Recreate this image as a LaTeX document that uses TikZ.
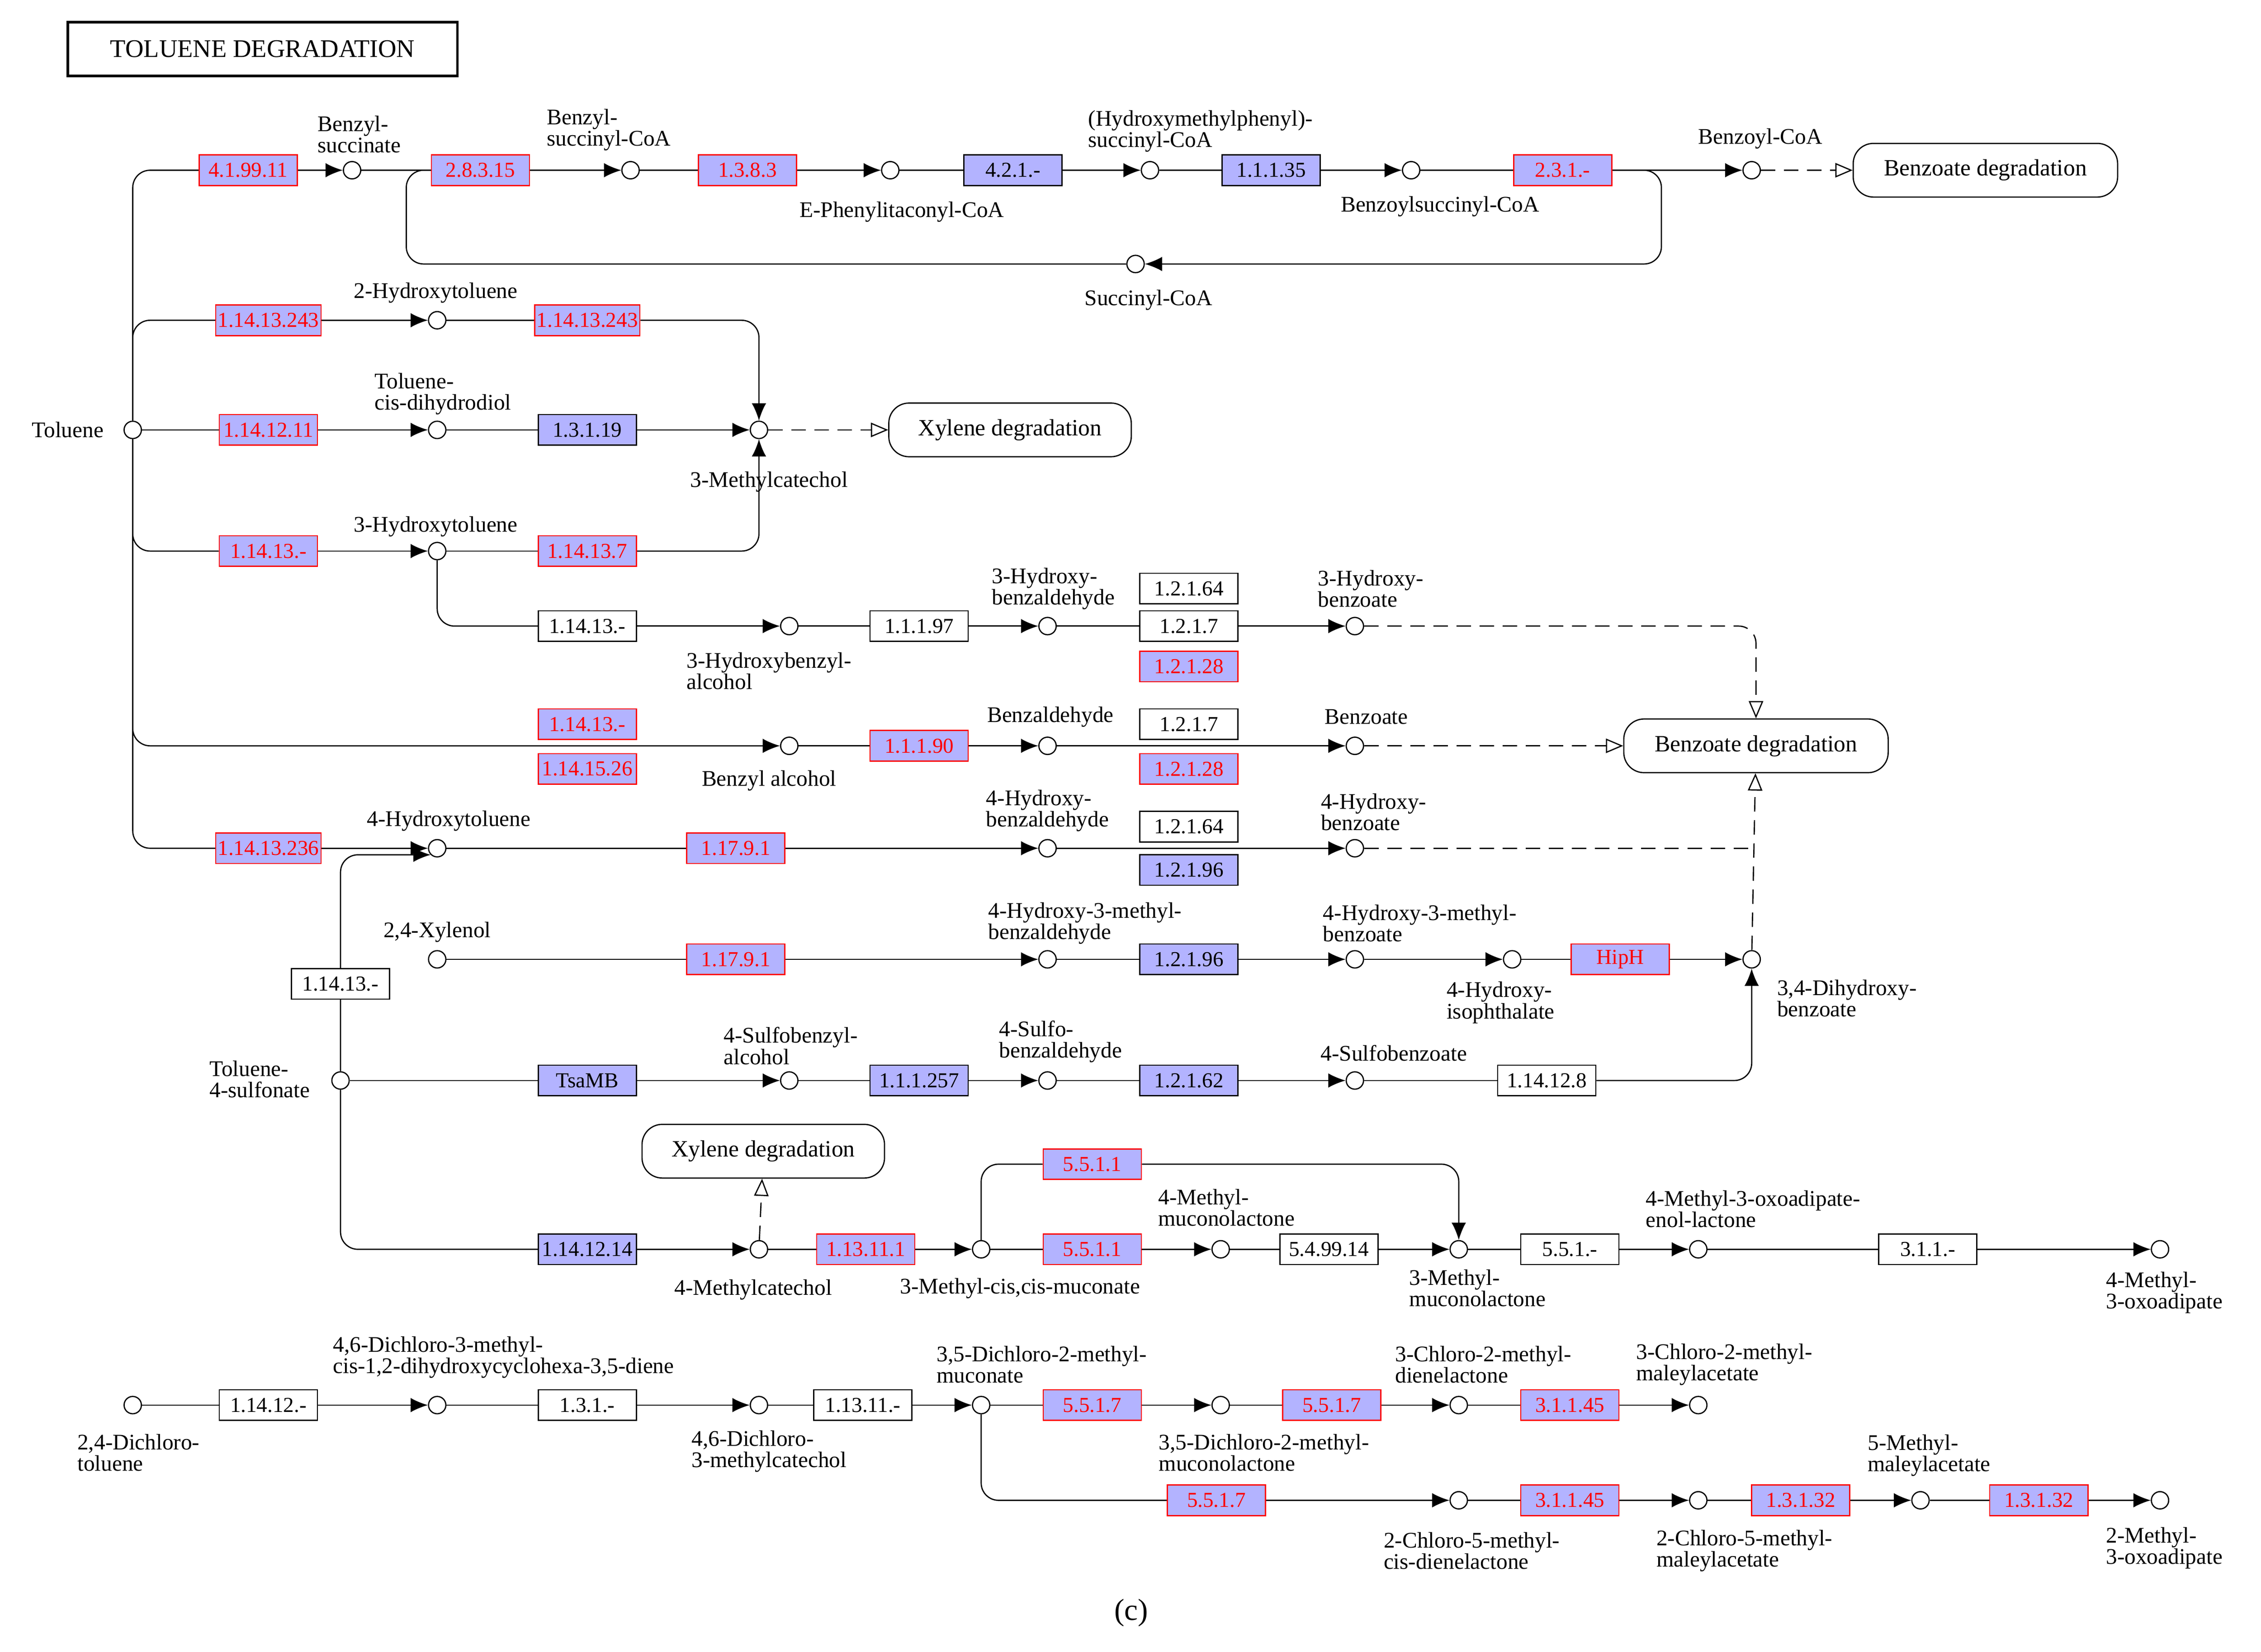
\documentclass[tikz,border=0pt]{standalone}
\usepackage{fontspec}
\setmainfont{Liberation Serif}
\usetikzlibrary{arrows.meta,backgrounds,positioning}
\definecolor{kb}{HTML}{B3B3FF}
\tikzset{
 x=0.025cm,y=-0.025cm,
 bx/.style={rectangle,draw,minimum width=1.7cm,minimum height=0.53cm,inner sep=1pt,font=\fontsize{10.5}{11}\selectfont,line width=0.6pt},
 rb/.style={bx,draw=red,fill=kb,text=red},
 bb/.style={bx,fill=kb},
 wb/.style={bx,fill=white},
 cp/.style={circle,draw,fill=white,minimum size=0.3cm,inner sep=0,line width=0.6pt},
 lb/.style={align=left,inner sep=0,font=\fontsize{11}{10.5}\selectfont},
 mp/.style={rounded corners=0.35cm,draw,fill=white,minimum height=0.93cm,font=\fontsize{11.5}{12}\selectfont,line width=0.6pt},
 ln/.style={line width=0.6pt,rounded corners=0.3cm},
 ar/.style={ln,-{Latex[length=0.3cm,width=0.25cm]}},
 da/.style={ln,dashed,dash pattern=on 0.25cm off 0.15cm,-{Triangle[open,length=0.3cm,width=0.25cm]}},
}
\begin{document}
\begin{tikzpicture}
\useasboundingbox (0,0) rectangle (1567,1145);
\node[draw,line width=1.2pt,minimum width=6.75cm,minimum height=0.93cm,font=\fontsize{12.5}{13}\selectfont] (title) at (182,34) {TOLUENE DEGRADATION};
% row 118
\node[cp] (T) at (92,298) {}; \node[lb] at (47,298) {Toluene};
\node[rb] (e1) at (172,118) {4.1.99.11};
\node[cp] (bs) at (244,118) {}; \node[lb] at (249,93) {Benzyl-\\succinate};
\node[rb] (e2) at (333,118) {2.8.3.15};
\node[cp] (bsc) at (437,118) {}; \node[lb] at (422,90) {Benzyl-\\succinyl-CoA};
\node[rb] (e3) at (518,118) {1.3.8.3};
\node[cp] (epc) at (617,118) {}; \node[lb] at (625,147) {E-Phenylitaconyl-CoA};
\node[bb] (e4) at (702,118) {4.2.1.-};
\node[cp] (hmp) at (797,118) {}; \node[lb] at (832,91) {(Hydroxymethylphenyl)-\\succinyl-CoA};
\node[bb] (e5) at (881,118) {1.1.1.35};
\node[cp] (bzs) at (978,118) {}; \node[lb] at (998,143) {Benzoylsuccinyl-CoA};
\node[rb] (e6) at (1083,118) {2.3.1.-};
\node[cp] (bzc) at (1214,118) {}; \node[lb] at (1220,96) {Benzoyl-CoA};
\node[mp,minimum width=4.58cm] (bd1) at (1376,118) {Benzoate degradation};
\node[cp] (suc) at (787,183) {}; \node[lb] at (796,208) {Succinyl-CoA};
% rows 222-382
\node[rb] (e7) at (186,222) {1.14.13.243};
\node[cp] (h2) at (303,222) {}; \node[lb] at (302,203) {2-Hydroxytoluene};
\node[rb] (e8) at (407,222) {1.14.13.243};
\node[rb] (e9) at (186,298) {1.14.12.11};
\node[cp] (tcd) at (303,298) {}; \node[lb] at (307,273) {Toluene-\\cis-dihydrodiol};
\node[bb] (e10) at (407,298) {1.3.1.19};
\node[cp] (mc) at (526,298) {}; \node[lb] at (533,334) {3-Methylcatechol};
\node[mp,minimum width=4.2cm] (xd1) at (700,298) {Xylene degradation};
\node[rb] (e11) at (186,382) {1.14.13.-};
\node[cp] (h3) at (303,382) {}; \node[lb] at (302,365) {3-Hydroxytoluene};
\node[rb] (e12) at (407,382) {1.14.13.7};
% row 434
\node[wb] (e13) at (407,434) {1.14.13.-};
\node[cp] (hba) at (547,434) {}; \node[lb] at (533,465) {3-Hydroxybenzyl-\\alcohol};
\node[wb] (e14) at (637,434) {1.1.1.97};
\node[cp] (hbd) at (726,434) {}; \node[lb] at (730,408) {3-Hydroxy-\\benzaldehyde};
\node[wb] (e15) at (824,408) {1.2.1.64};
\node[wb] (e16) at (824,434) {1.2.1.7};
\node[rb] (e17) at (824,462) {1.2.1.28};
\node[cp] (hb3) at (939,434) {}; \node[lb] at (950,408) {3-Hydroxy-\\benzoate};
% row 517
\node[rb] (e18) at (407,502) {1.14.13.-};
\node[rb] (e19) at (407,533) {1.14.15.26};
\node[cp] (bal) at (547,517) {}; \node[lb] at (533,541) {Benzyl alcohol};
\node[rb] (e20) at (637,517) {1.1.1.90};
\node[cp] (bad) at (726,517) {}; \node[lb] at (728,497) {Benzaldehyde};
\node[wb] (e21) at (824,502) {1.2.1.7};
\node[rb] (e22) at (824,533) {1.2.1.28};
\node[cp] (bz) at (939,517) {}; \node[lb] at (947,497) {Benzoate};
\node[mp,minimum width=4.58cm] (bd2) at (1217,517) {Benzoate degradation};
% row 588
\node[rb] (e23) at (186,588) {1.14.13.236};
\node[cp] (h4) at (303,588) {}; \node[lb] at (311,569) {4-Hydroxytoluene};
\node[rb] (e24) at (510,588) {1.17.9.1};
\node[cp] (h4d) at (726,588) {}; \node[lb] at (726,562) {4-Hydroxy-\\benzaldehyde};
\node[wb] (e25) at (824,573) {1.2.1.64};
\node[bb] (e26) at (824,603) {1.2.1.96};
\node[cp] (hb4) at (939,588) {}; \node[lb] at (952,563) {4-Hydroxy-\\benzoate};
% row 665
\node[cp] (xyl) at (303,665) {}; \node[lb] at (303,646) {2,4-Xylenol};
\node[rb] (e27) at (510,665) {1.17.9.1};
\node[cp] (hmd) at (726,665) {}; \node[lb] at (752,640) {4-Hydroxy-3-methyl-\\benzaldehyde};
\node[bb] (e28) at (824,665) {1.2.1.96};
\node[cp] (hmb) at (939,665) {}; \node[lb] at (984,640) {4-Hydroxy-3-methyl-\\benzoate};
\node[cp] (hip) at (1048,665) {}; \node[lb] at (1040,695) {4-Hydroxy-\\isophthalate};
\node[rb] (e29) at (1123,665) {HipH};
\node[cp] (dhb) at (1214,665) {}; \node[lb] at (1280,692) {3,4-Dihydroxy-\\benzoate};
% row 749
\node[cp] (ts) at (236,749) {}; \node[lb] at (180,748) {Toluene-\\4-sulfonate};
\node[wb] (e30) at (236,682) {1.14.13.-};
\node[bb] (e31) at (407,749) {TsaMB};
\node[cp] (sba) at (547,749) {}; \node[lb] at (548,725) {4-Sulfobenzyl-\\alcohol};
\node[bb] (e32) at (637,749) {1.1.1.257};
\node[cp] (sbd) at (726,749) {}; \node[lb] at (735,722) {4-Sulfo-\\benzaldehyde};
\node[bb] (e33) at (824,749) {1.2.1.62};
\node[cp] (sb) at (939,749) {}; \node[lb] at (966,730) {4-Sulfobenzoate};
\node[wb] (e34) at (1072,749) {1.14.12.8};
% row 866
\node[bb] (e35) at (407,866) {1.14.12.14};
\node[cp] (mc4) at (526,866) {}; \node[lb] at (522,894) {4-Methylcatechol};
\node[mp,minimum width=4.2cm] (xd2) at (529,798) {Xylene degradation};
\node[rb] (e36) at (600,866) {1.13.11.1};
\node[cp] (mcm) at (680,866) {}; \node[lb] at (707,893) {3-Methyl-cis,cis-muconate};
\node[rb] (e37) at (757,807) {5.5.1.1};
\node[rb] (e38) at (757,866) {5.5.1.1};
\node[cp] (mml) at (846,866) {}; \node[lb] at (850,837) {4-Methyl-\\muconolactone};
\node[wb] (e39) at (921,866) {5.4.99.14};
\node[cp] (ml3) at (1011,866) {}; \node[lb] at (1024,893) {3-Methyl-\\muconolactone};
\node[wb] (e40) at (1088,866) {5.5.1.-};
\node[cp] (mel) at (1177,866) {}; \node[lb] at (1215,838) {4-Methyl-3-oxoadipate-\\enol-lactone};
\node[wb] (e41) at (1336,866) {3.1.1.-};
\node[cp] (mox) at (1497,866) {}; \node[lb] at (1500,896) {4-Methyl-\\3-oxoadipate};
% row 974
\node[cp] (dct) at (92,974) {}; \node[lb] at (96,1007) {2,4-Dichloro-\\toluene};
\node[wb] (e42) at (186,974) {1.14.12.-};
\node[cp] (dcd) at (303,974) {}; \node[lb] at (349,941) {4,6-Dichloro-3-methyl-\\cis-1,2-dihydroxycyclohexa-3,5-diene};
\node[wb] (e43) at (407,974) {1.3.1.-};
\node[cp] (dcc) at (526,974) {}; \node[lb] at (533,1006) {4,6-Dichloro-\\3-methylcatechol};
\node[wb] (e44) at (598,974) {1.13.11.-};
\node[cp] (dcm) at (680,974) {}; \node[lb] at (722,946) {3,5-Dichloro-2-methyl-\\muconate};
\node[rb] (e45) at (757,974) {5.5.1.7};
\node[cp] (dml) at (846,974) {}; \node[lb] at (876,1007) {3,5-Dichloro-2-methyl-\\muconolactone};
\node[rb] (e46) at (923,974) {5.5.1.7};
\node[cp] (cdl) at (1011,974) {}; \node[lb] at (1028,946) {3-Chloro-2-methyl-\\dienelactone};
\node[rb] (e47) at (1088,974) {3.1.1.45};
\node[cp] (cma) at (1177,974) {}; \node[lb] at (1195,946) {3-Chloro-2-methyl-\\maleylacetate};
% row 1040
\node[rb] (e48) at (843,1040) {5.5.1.7};
\node[cp] (ccd) at (1011,1040) {}; \node[lb] at (1020,1075) {2-Chloro-5-methyl-\\cis-dienelactone};
\node[rb] (e49) at (1088,1040) {3.1.1.45};
\node[cp] (cmm) at (1177,1040) {}; \node[lb] at (1209,1075) {2-Chloro-5-methyl-\\maleylacetate};
\node[rb] (e50) at (1248,1040) {1.3.1.32};
\node[cp] (mma) at (1331,1040) {}; \node[lb] at (1337,1009) {5-Methyl-\\maleylacetate};
\node[rb] (e51) at (1413,1040) {1.3.1.32};
\node[cp] (moa) at (1497,1040) {}; \node[lb] at (1500,1073) {2-Methyl-\\3-oxoadipate};
\node[font=\fontsize{15}{16}\selectfont] (cap) at (784,1118) {(c)};
\begin{scope}[on background layer]
\draw[ln] (T) |- (e1); \draw[ar] (e1) -- (bs); \draw[ln] (bs) -- (e2); \draw[ar] (e2) -- (bsc);
\draw[ln] (bsc) -- (e3); \draw[ar] (e3) -- (epc); \draw[ln] (epc) -- (e4); \draw[ar] (e4) -- (hmp);
\draw[ln] (hmp) -- (e5); \draw[ar] (e5) -- (bzs); \draw[ln] (bzs) -- (e6); \draw[ar] (e6) -- (bzc);
\draw[da] (bzc) -- (bd1);
\draw[ar] (e6.east) -- ++(34,0) |- (suc);
\draw[ln] (e2.west) -- ++(-17,0) |- (suc);
\draw[ln] (T) |- (e7); \draw[ar] (e7) -- (h2); \draw[ln] (h2) -- (e8); \draw[ar] (e8) -| (mc);
\draw[ln] (T) -- (e9); \draw[ar] (e9) -- (tcd); \draw[ln] (tcd) -- (e10); \draw[ar] (e10) -- (mc);
\draw[da] (mc) -- (xd1);
\draw[ln] (T) |- (e11); \draw[ar] (e11) -- (h3); \draw[ln] (h3) -- (e12); \draw[ar] (e12) -| (mc);
\draw[ln] (h3) |- (e13); \draw[ar] (e13) -- (hba); \draw[ln] (hba) -- (e14); \draw[ar] (e14) -- (hbd);
\draw[ln] (hbd) -- (e16); \draw[ar] (e16) -- (hb3); \draw[da] (hb3) -| (bd2);
\draw[ar] (T) |- (bal); \draw[ln] (bal) -- (e20); \draw[ar] (e20) -- (bad); \draw[ar] (bad) -- (bz);
\draw[da] (bz) -- (bd2);
\draw[ln] (T) |- (e23); \draw[ar] (e23) -- (h4); \draw[ar] (ts) |- (h4.south west);
\draw[ln] (h4) -- (e24); \draw[ar] (e24) -- (h4d); \draw[ar] (h4d) -- (hb4);
\draw[ln,dashed,dash pattern=on 0.25cm off 0.15cm] (hb4) -- (hb4 -| dhb);
\draw[ln] (xyl) -- (e27); \draw[ar] (e27) -- (hmd); \draw[ln] (hmd) -- (e28); \draw[ar] (e28) -- (hmb);
\draw[ar] (hmb) -- (hip); \draw[ln] (hip) -- (e29); \draw[ar] (e29) -- (dhb); \draw[da] (dhb) -- (bd2);
\draw[ln] (ts) -- (e31); \draw[ar] (e31) -- (sba); \draw[ln] (sba) -- (e32); \draw[ar] (e32) -- (sbd);
\draw[ln] (sbd) -- (e33); \draw[ar] (e33) -- (sb); \draw[ln] (sb) -- (e34); \draw[ar] (e34) -| (dhb);
\draw[ln] (ts) |- (e35); \draw[ar] (e35) -- (mc4); \draw[da] (mc4) -- (xd2);
\draw[ln] (mc4) -- (e36); \draw[ar] (e36) -- (mcm);
\draw[ln] (mcm) |- (e37); \draw[ar] (e37) -| (ml3);
\draw[ln] (mcm) -- (e38); \draw[ar] (e38) -- (mml); \draw[ln] (mml) -- (e39); \draw[ar] (e39) -- (ml3);
\draw[ln] (ml3) -- (e40); \draw[ar] (e40) -- (mel); \draw[ln] (mel) -- (e41); \draw[ar] (e41) -- (mox);
\draw[ln] (dct) -- (e42); \draw[ar] (e42) -- (dcd); \draw[ln] (dcd) -- (e43); \draw[ar] (e43) -- (dcc);
\draw[ln] (dcc) -- (e44); \draw[ar] (e44) -- (dcm); \draw[ln] (dcm) -- (e45); \draw[ar] (e45) -- (dml);
\draw[ln] (dml) -- (e46); \draw[ar] (e46) -- (cdl); \draw[ln] (cdl) -- (e47); \draw[ar] (e47) -- (cma);
\draw[ln] (dcm) |- (e48); \draw[ar] (e48) -- (ccd); \draw[ln] (ccd) -- (e49); \draw[ar] (e49) -- (cmm);
\draw[ln] (cmm) -- (e50); \draw[ar] (e50) -- (mma); \draw[ln] (mma) -- (e51); \draw[ar] (e51) -- (moa);
\end{scope}
\end{tikzpicture}
\end{document}
